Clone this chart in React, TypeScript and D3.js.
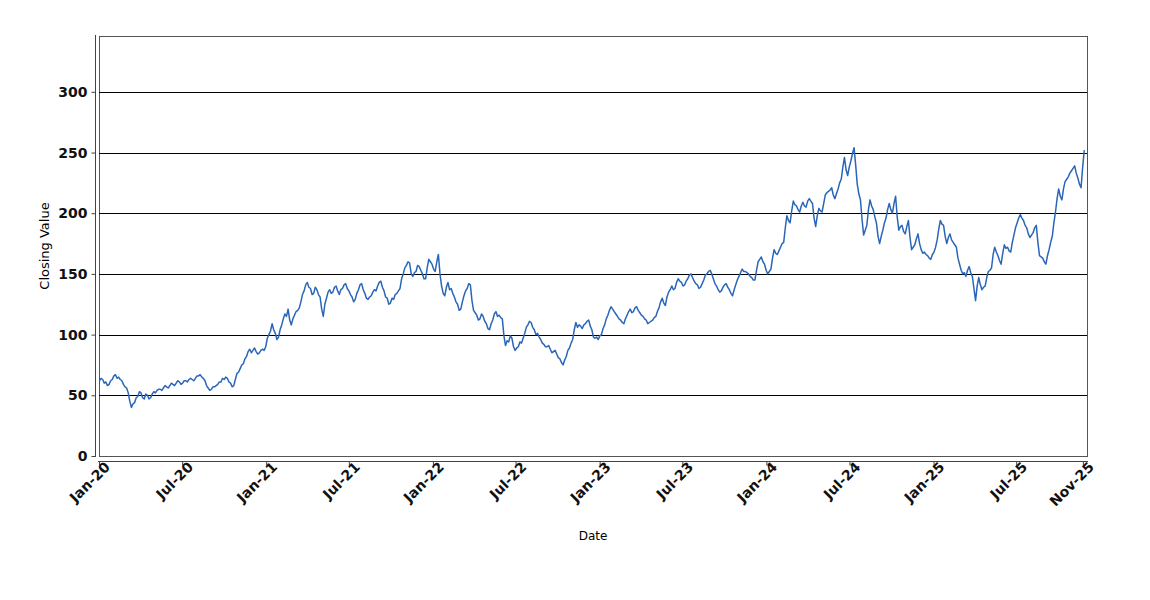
import * as d3 from "d3";
import { useRef, useEffect, ReactElement } from "react";

// closing values, two per week (first point = 2 Jan 2020), one array per year
const firstDay = "2020-01-02";
const hoursBetween = 84;

const closes2020 = [
    62, 64, 63, 60, 61, 58, 59, 62, 63, 66, 67, 64, 65, 63, 62, 59, 57, 56, 52, 45,
    40, 43, 44, 48, 49, 53, 52, 48, 47, 51, 50, 47, 48, 51, 53, 52, 54, 55, 55, 54,
    56, 58, 57, 56, 58, 60, 59, 58, 60, 62, 61, 59, 60, 62, 62, 61, 63, 64, 63, 62,
    64, 66, 66, 67, 65, 64, 62, 58, 56, 54, 55, 57, 57, 58, 59, 61, 61, 64, 63, 65,
    64, 61, 60, 57, 58, 63, 68, 69, 72, 75, 76, 80, 82, 86, 88, 85, 87, 89, 86, 84,
    85, 87, 88, 87,
];
const closes2021 = [
    90, 97, 100, 103, 109, 104, 101, 96, 98, 104, 108, 113, 117, 115, 121, 112, 108, 113, 116, 119,
    120, 122, 127, 133, 136, 141, 143, 139, 138, 133, 134, 139, 137, 133, 131, 121, 115, 125, 130, 135,
    137, 134, 135, 139, 140, 136, 133, 137, 138, 141, 142, 138, 136, 133, 131, 127, 129, 134, 137, 141,
    142, 137, 134, 130, 129, 131, 132, 135, 137, 136, 140, 143, 144, 139, 136, 131, 130, 125, 126, 130,
    129, 133, 134, 136, 138, 146, 150, 155, 157, 160, 159, 150, 148, 151, 152, 157, 156, 153, 150, 146,
    146, 155, 162, 160,
];
const closes2022 = [
    158, 154, 152, 160, 166, 150, 140, 134, 132, 139, 143, 137, 138, 134, 131, 127, 125, 120, 121, 127,
    132, 136, 138, 142, 141, 128, 120, 118, 116, 112, 113, 117, 115, 111, 109, 105, 104, 109, 112, 117,
    119, 115, 116, 114, 113, 99, 91, 95, 94, 99, 97, 90, 87, 89, 90, 94, 93, 97, 101, 106,
    108, 111, 110, 106, 104, 100, 101, 98, 96, 93, 92, 90, 90, 91, 88, 85, 86, 87, 84, 81,
    80, 77, 75, 79, 82, 87, 89, 93, 96, 104, 110, 106, 108, 107, 105, 108, 109, 111, 112, 107,
    104, 98, 97, 98,
];
const closes2023 = [
    96, 99, 100, 105, 108, 113, 116, 120, 123, 121, 119, 117, 115, 113, 112, 110, 109, 113, 116, 119,
    121, 118, 119, 122, 123, 120, 118, 116, 115, 113, 112, 109, 110, 111, 112, 114, 115, 119, 122, 127,
    130, 126, 124, 131, 135, 137, 140, 137, 138, 143, 146, 144, 143, 140, 141, 144, 146, 149, 150, 147,
    144, 142, 141, 138, 139, 142, 145, 149, 150, 152, 153, 150, 146, 142, 140, 137, 135, 136, 139, 141,
    142, 139, 137, 134, 132, 137, 141, 145, 148, 151, 154, 152, 152, 151, 150, 148, 147, 145, 145, 153,
    160, 162, 164, 160,
];
const closes2024 = [
    158, 153, 150, 152, 154, 163, 170, 167, 166, 169, 172, 175, 176, 188, 198, 194, 192, 202, 210, 207,
    206, 203, 201, 206, 209, 206, 205, 210, 212, 210, 208, 196, 189, 198, 204, 202, 201, 208, 215, 217,
    218, 219, 221, 215, 212, 216, 220, 225, 228, 238, 246, 236, 231, 238, 243, 249, 254, 240, 224, 216,
    211, 195, 182, 186, 190, 203, 211, 206, 203, 197, 192, 181, 175, 181, 186, 192, 196, 203, 208, 203,
    200, 208, 214, 197, 186, 189, 190, 185, 183, 189, 194, 180, 170, 172, 174, 179, 183, 175, 170, 167,
    168, 166, 165, 163,
];
const closes2025 = [
    162, 166, 168, 172, 178, 187, 194, 191, 190, 181, 175, 180, 183, 178, 176, 174, 172, 163, 158, 153,
    150, 151, 148, 153, 156, 151, 148, 138, 128, 140, 147, 141, 137, 139, 140, 147, 152, 153, 155, 166,
    172, 168, 165, 161, 158, 167, 174, 171, 172, 169, 168, 176, 182, 188, 192, 196, 199, 196, 194, 190,
    188, 183, 180, 182, 184, 188, 190, 176, 165, 164, 163, 160, 158, 165, 170, 176, 181, 192, 201, 212,
    220, 214, 211, 220, 226, 228, 230, 233, 235, 237, 239, 233, 229, 224, 221, 238, 252,
];

const yTicks = [0, 50, 100, 150, 200, 250, 300];
const xTicks = [
    "2020-01-01", "2020-07-01", "2021-01-01", "2021-07-01", "2022-01-01", "2022-07-01",
    "2023-01-01", "2023-07-01", "2024-01-01", "2024-07-01", "2025-01-01", "2025-07-01", "2025-11-24",
];

const width = 1150;
const height = 600;
const plot = { left: 99, right: 1087, top: 36, bottom: 456 };
const font = "'DejaVu Sans', Verdana, sans-serif";

const App = (): ReactElement => {
    const svgRef = useRef<SVGSVGElement>(null);

    useEffect(() => {
        if (!svgRef.current) return;
        const svg = d3.select(svgRef.current);

        const parse = d3.timeParse("%Y-%m-%d");
        const start = parse(firstDay)!;
        const closes = [...closes2020, ...closes2021, ...closes2022, ...closes2023, ...closes2024, ...closes2025];
        const data = closes.map((value, i) => ({ date: d3.timeHour.offset(start, i * hoursBetween), value }));

        const xScale = d3.scaleTime()
            .domain([parse("2020-01-01")!, parse("2025-12-03")!])
            .range([plot.left, plot.right]);
        const yScale = d3.scaleLinear()
            .domain([0, 346])
            .range([plot.bottom, plot.top]);

        // plot background + border
        svg.append("rect")
            .attr("x", plot.left + 0.5)
            .attr("y", plot.top + 0.5)
            .attr("width", plot.right - plot.left)
            .attr("height", plot.bottom - plot.top)
            .attr("fill", "white")
            .attr("stroke", "#555")
            .attr("stroke-width", 1);

        // horizontal grid lines
        svg.append("g")
            .selectAll("line")
            .data(yTicks.filter(t => t > 0))
            .enter()
            .append("line")
                .attr("x1", plot.left)
                .attr("x2", plot.right)
                .attr("y1", d => Math.round(yScale(d)) + 0.5)
                .attr("y2", d => Math.round(yScale(d)) + 0.5)
                .attr("stroke", "#000")
                .attr("stroke-width", 1);

        // y axis
        const yAxis = svg.append("g")
            .attr("transform", "translate(95.5,0)")
            .call(d3.axisLeft(yScale).tickValues(yTicks).tickSize(4).tickPadding(4));
        yAxis.select(".domain").attr("d", `M0,${plot.top - 1}V${plot.bottom + 1}`).attr("stroke", "#444");
        yAxis.selectAll(".tick line").attr("stroke", "#444");
        yAxis.selectAll("text")
            .attr("font-family", font)
            .attr("font-size", 14)
            .attr("font-weight", "bold")
            .attr("fill", "#111");

        // x axis
        const xAxis = svg.append("g")
            .attr("transform", "translate(0,461.5)")
            .call(d3.axisBottom(xScale)
                .tickValues(xTicks.map(t => parse(t)!))
                .tickFormat(d => d3.timeFormat("%b-%y")(d as Date))
                .tickSize(4));
        xAxis.select(".domain").attr("d", `M${plot.left - 1},0H${plot.right + 1}`).attr("stroke", "#444");
        xAxis.selectAll(".tick line").attr("stroke", "#444");
        xAxis.selectAll("text")
            .attr("font-family", font)
            .attr("font-size", 14)
            .attr("font-weight", "bold")
            .attr("fill", "#111")
            .attr("text-anchor", "end")
            .attr("dy", "0.35em")
            .attr("transform", "translate(3,-2) rotate(-45)");

        // closing value line
        const line = d3.line<{ date: Date, value: number }>()
            .x(d => xScale(d.date))
            .y(d => yScale(d.value));
        svg.append("path")
            .datum(data)
            .attr("d", line)
            .attr("fill", "none")
            .attr("stroke", "#2a66b8")
            .attr("stroke-width", 1.5)
            .attr("stroke-linejoin", "round");

        // axis titles
        svg.append("text")
            .attr("transform", `translate(49,${(plot.top + plot.bottom) / 2}) rotate(-90)`)
            .attr("text-anchor", "middle")
            .attr("font-family", font)
            .attr("font-size", 13)
            .attr("fill", "#000")
            .text("Closing Value");
        svg.append("text")
            .attr("x", (plot.left + plot.right) / 2)
            .attr("y", 540)
            .attr("text-anchor", "middle")
            .attr("font-family", font)
            .attr("font-size", 12)
            .attr("fill", "#000")
            .text("Date");

        return () => {
            svg.selectAll("*").remove();
        };
    }, []);

    return (
        <svg
            ref={svgRef}
            width={width}
            height={height}
            style={{ position: "absolute", left: 0, top: 0, background: "white" }}
        />
    );
};

export default App;
